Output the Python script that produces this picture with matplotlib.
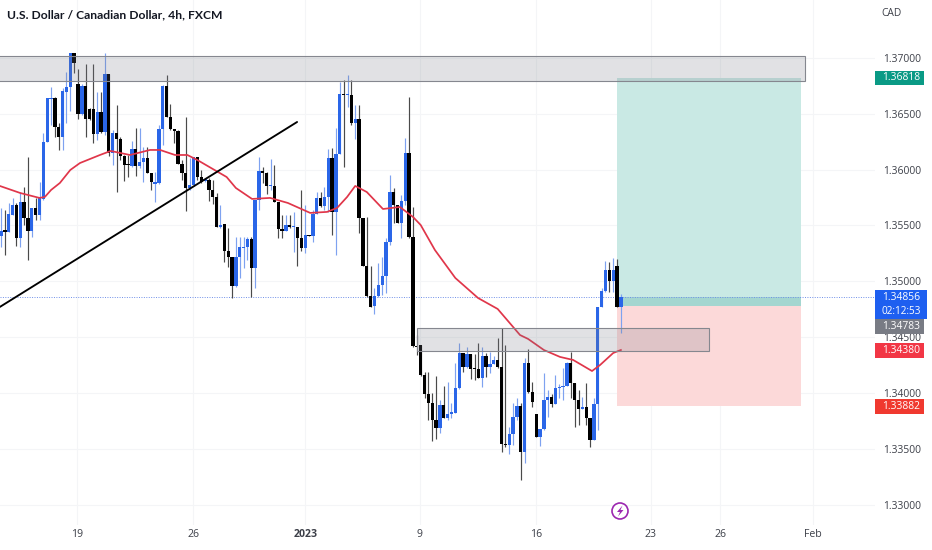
import matplotlib
matplotlib.use("Agg")
import matplotlib.pyplot as plt
from matplotlib.patches import Rectangle, Circle, Polygon

opens = [1.35406,1.35459,1.35441,1.35594,1.35683,1.35388,1.35710,1.35567,1.35450,1.35656,
1.35594,1.35737,1.36246,1.36631,1.36640,1.36380,1.36291,1.36693,1.36738,1.37042,
1.36765,1.36497,1.36747,1.36541,1.36541,1.36318,1.36514,1.36336,1.36854,1.36148,
1.36327,1.36273,1.36121,1.36050,1.36032,1.36184,1.36032,1.36068,1.36103,1.35969,
1.35871,1.35880,1.36363,1.36747,1.36470,1.36363,1.36345,1.36050,1.35969,1.35835,
1.35862,1.36112,1.35933,1.35898,1.35906,1.35817,1.35755,1.35486,1.35513,1.35272,
1.35218,1.34960,1.35218,1.35298,1.35307,1.35379,1.35120,1.35728,1.35987,1.35969,
1.35853,1.35853,1.35710,1.35468,1.35450,1.35504,1.35486,1.35486,1.35388,1.35298,
1.35415,1.35406,1.35602,1.35746,1.35674,1.35755,1.36103,1.35620,1.36139,1.36675,
1.36667,1.36667,1.36416,1.36452,1.35567,1.35138,1.34869,1.34780,1.34869,1.34967,
1.35048,1.35352,1.35799,1.35683,1.35522,1.35719,1.36148,1.35397,1.34422,1.34431,
1.34163,1.33993,1.33912,1.33760,1.33689,1.33894,1.33778,1.33814,1.33823,1.34046,
1.34359,1.34234,1.34350,1.34225,1.34216,1.34136,1.34332,1.34234,1.34261,1.34297,
1.34234,1.33546,1.33537,1.33635,1.33787,1.33885,1.33474,1.34270,1.34011,1.33814,
1.33608,1.33680,1.33939,1.33966,1.33903,1.34046,1.34055,1.34064,1.34270,1.34091,
1.33939,1.33859,1.33877,1.33778,1.33581,1.33903,1.34771,1.34914,1.35102,1.35003,
1.35138,1.34771]
highs = [1.35656,1.35638,1.35701,1.35746,1.35701,1.35799,1.35844,1.36112,1.35656,1.35746,
1.35889,1.36327,1.36640,1.36738,1.36649,1.36416,1.36729,1.36872,1.37042,1.37042,
1.36899,1.36765,1.36944,1.36550,1.36944,1.36693,1.36693,1.37042,1.36854,1.36354,
1.36577,1.36291,1.36130,1.36130,1.36255,1.36371,1.36371,1.36201,1.36201,1.35969,
1.35978,1.36398,1.36756,1.36845,1.36586,1.36363,1.36354,1.36085,1.36470,1.36103,
1.36112,1.36112,1.35996,1.35924,1.35924,1.35906,1.35790,1.35683,1.35513,1.35477,
1.35218,1.35397,1.35397,1.35397,1.35397,1.35397,1.35728,1.36112,1.36023,1.35978,
1.36094,1.36041,1.35710,1.35594,1.35594,1.35594,1.35620,1.35486,1.35817,1.35683,
1.35415,1.35638,1.35799,1.35799,1.35844,1.36184,1.36192,1.36371,1.36783,1.36801,
1.36845,1.36801,1.36577,1.36577,1.35567,1.35576,1.35138,1.34941,1.35164,1.35218,
1.35388,1.35951,1.35835,1.35683,1.35772,1.36282,1.36649,1.35665,1.34520,1.34431,
1.34190,1.34190,1.34002,1.34154,1.33939,1.34064,1.34100,1.33912,1.34270,1.34449,
1.34359,1.34413,1.34350,1.34350,1.34449,1.34413,1.34359,1.34368,1.34332,1.34494,
1.34583,1.34431,1.33698,1.33912,1.33957,1.33912,1.34315,1.34395,1.34100,1.33814,
1.33680,1.34181,1.34028,1.33993,1.34163,1.34082,1.34225,1.34279,1.34368,1.34091,
1.34028,1.33966,1.34091,1.33778,1.33957,1.34771,1.34941,1.35182,1.35173,1.35209,
1.35200,1.34887]
lows = [1.35307,1.35236,1.35441,1.35594,1.35316,1.35307,1.35504,1.35191,1.35397,1.35549,
1.35549,1.35728,1.36246,1.36398,1.36291,1.36175,1.36175,1.36416,1.36523,1.36863,
1.36452,1.36488,1.36291,1.36443,1.36237,1.36264,1.36327,1.36309,1.36121,1.36041,
1.35799,1.36085,1.35898,1.35933,1.36023,1.35942,1.36014,1.35889,1.35969,1.35817,
1.35710,1.35871,1.36219,1.36470,1.36354,1.36237,1.36050,1.35906,1.35629,1.35817,
1.35853,1.35906,1.35880,1.35889,1.35719,1.35692,1.35486,1.35477,1.35173,1.35129,
1.34851,1.34950,1.35030,1.35120,1.35191,1.34860,1.34941,1.35638,1.35880,1.35781,
1.35817,1.35710,1.35388,1.35388,1.35450,1.35477,1.35263,1.35138,1.35272,1.35254,
1.35406,1.35352,1.35602,1.35665,1.35638,1.35620,1.35415,1.35236,1.36139,1.36023,
1.36559,1.36398,1.36273,1.35432,1.35138,1.34860,1.34771,1.34708,1.34860,1.34878,
1.34896,1.35325,1.35522,1.35522,1.35388,1.35683,1.35388,1.34413,1.34342,1.34154,
1.33957,1.33760,1.33572,1.33590,1.33644,1.33778,1.33760,1.33778,1.33823,1.34037,
1.34190,1.34225,1.34127,1.34118,1.34136,1.34056,1.34145,1.34181,1.34261,1.34225,
1.33474,1.33519,1.33456,1.33537,1.33760,1.33224,1.33376,1.34002,1.33877,1.33608,
1.33528,1.33671,1.33787,1.33877,1.33903,1.33957,1.33939,1.34064,1.33957,1.33698,
1.33716,1.33859,1.33716,1.33519,1.33581,1.33671,1.34771,1.34905,1.34905,1.34905,
1.34771,1.34539]
closes = [1.35450,1.35441,1.35602,1.35683,1.35388,1.35710,1.35567,1.35450,1.35656,1.35594,
1.35746,1.36246,1.36640,1.36640,1.36380,1.36291,1.36702,1.36738,1.37042,1.36953,
1.36497,1.36747,1.36452,1.36452,1.36318,1.36514,1.36336,1.36854,1.36148,1.36327,
1.36273,1.36121,1.36041,1.36041,1.36184,1.36032,1.36068,1.36103,1.35969,1.35889,
1.35889,1.36363,1.36747,1.36470,1.36363,1.36345,1.36050,1.35969,1.35835,1.35862,
1.36112,1.35933,1.35889,1.35915,1.35817,1.35755,1.35486,1.35504,1.35272,1.35218,
1.34960,1.35218,1.35307,1.35307,1.35379,1.35120,1.35728,1.35987,1.35969,1.35853,
1.35862,1.35710,1.35468,1.35450,1.35504,1.35486,1.35495,1.35388,1.35298,1.35415,
1.35406,1.35602,1.35746,1.35674,1.35755,1.36103,1.35620,1.36139,1.36675,1.36667,
1.36675,1.36416,1.36452,1.35567,1.35138,1.34869,1.34771,1.34869,1.34967,1.35048,
1.35352,1.35799,1.35683,1.35522,1.35719,1.36148,1.35397,1.34422,1.34413,1.34163,
1.33993,1.33912,1.33760,1.33689,1.33894,1.33778,1.33814,1.33832,1.34046,1.34359,
1.34234,1.34350,1.34216,1.34216,1.34136,1.34332,1.34234,1.34261,1.34297,1.34234,
1.33546,1.33537,1.33635,1.33787,1.33885,1.33474,1.34270,1.34011,1.33921,1.33608,
1.33680,1.33939,1.33966,1.33903,1.34046,1.34055,1.34064,1.34270,1.34091,1.33939,
1.33859,1.33877,1.33778,1.33581,1.33903,1.34771,1.34914,1.35102,1.35003,1.35102,
1.34771,1.34856]

# moving average (bar index, price)
ema_idx = [-0.3,5,10,11.4,13,15.3,18,20.5,25.7,28.5,33.5,38.7,41.3,45.2,48.4,51,55,58.6,61,65.2,
           69.9,74.5,80.3,84.7,87.3,89.9,92,95,99.2,103.6,107,109,112.7,118,123.9,129,134.8,
           136.9,141,145.2,148.6,153.5,155.6,159,161]
ema_val = [1.35853,1.35790,1.35746,1.35755,1.35817,1.35880,1.35996,1.36058,1.36130,1.36166,
           1.36130,1.36175,1.36175,1.36130,1.36130,1.36085,1.36005,1.35933,1.35835,1.35737,
           1.35746,1.35701,1.35612,1.35621,1.35657,1.35755,1.35853,1.35799,1.35647,1.35665,
           1.35576,1.35504,1.35280,1.35030,1.34851,1.34753,1.34520,1.34485,1.34386,1.34324,
           1.34297,1.34198,1.34252,1.34359,1.34386]

x_tick_pos = [19.7,49.9,79,108.8,139,168.8,186.8,210.9]
x_tick_labels = ["19","26","2023","9","16","23","26","Feb"]
y_ticks = [1.33,1.335,1.34,1.345,1.35,1.355,1.36,1.365,1.37]

zone_top = (1.37016, 1.36792)
zone_mid = (1.34583, 1.34377)
target, entry, stop = 1.36818, 1.34783, 1.33882
last_price = 1.34856
ema_last = 1.34380
trend_i, trend_p = [-0.3, 76.9], [1.34771, 1.36425]

UP, DOWN = "#2a66e8", "#000000"

fig = plt.figure(figsize=(9.32, 5.5), dpi=100)
ax = fig.add_axes([0, 25/550, 875/932, 525/550])
ax.set_xlim(-0.26, 227.0)
ax.set_ylim(1.32821, 1.37516)
for s in ax.spines.values():
    s.set_visible(False)
ax.grid(True, color="#f4f5f7", lw=0.8)
ax.set_axisbelow(True)
ax.yaxis.tick_right()
ax.set_yticks(y_ticks)
ax.set_yticklabels([f"{v:.5f}" for v in y_ticks], fontfamily="Open Sans", fontsize=7.4, color="#3c3f48")
ax.set_xticks(x_tick_pos)
ax.set_xticklabels(x_tick_labels, fontfamily="Open Sans", fontsize=7.6, color="#3c3f48")
for lab in ax.get_xticklabels():
    if lab.get_text() == "2023":
        lab.set_fontweight("bold")
ax.tick_params(axis="both", length=0)
ax.tick_params(axis="y", pad=6)
ax.tick_params(axis="x", pad=3)

# position tool
ax.add_patch(Rectangle((160, entry), 47.8, target-entry, fc="#c9e9e4", ec="none", zorder=1))
ax.add_patch(Rectangle((160, stop), 47.8, entry-stop, fc="#fcd9d9", ec="none", zorder=1))
ax.add_patch(Rectangle((160, entry), 47.8, last_price-entry, fc="#a4d6d0", ec="none", zorder=1.1))

ax.axhline(last_price, color="#6f8fe8", lw=0.7, ls=(0, (1, 1.5)), zorder=1.5)

# candles
for i, (o, h, l, c) in enumerate(zip(opens, highs, lows, closes)):
    up = c >= o
    ax.vlines(i, l, h, color="#7ea2f0" if up else "#4a4a4a", lw=0.85, zorder=2)
    ax.bar(i, max(abs(c-o), 0.00011), bottom=min(o, c), width=0.86,
           color=UP if up else DOWN, zorder=3, linewidth=0)

ax.plot(ema_idx, ema_val, color="#e0364a", lw=1.25, zorder=4, solid_joinstyle="round")
ax.plot(trend_i, trend_p, color="#000000", lw=1.35, zorder=4, solid_capstyle="round")

box_fc = (0.47, 0.48, 0.53, 0.22)
ax.add_patch(Rectangle((-5, zone_top[1]), 213.85, zone_top[0]-zone_top[1], fc=box_fc, ec="#85878f", lw=0.8, zorder=5))
ax.add_patch(Rectangle((108.05, zone_mid[1]), 75.85, zone_mid[0]-zone_mid[1], fc=box_fc, ec="#85878f", lw=0.8, zorder=5))

# overlay in figure pixels for the price tags, title and icon
ov = fig.add_axes([0, 0, 1, 1])
ov.set_xlim(0, 932)
ov.set_ylim(550, 0)
ov.axis("off")
ov.patch.set_alpha(0)

F = "Open Sans"
tags = [("1.36818", "#0a9a85", 71, 85), ("1.34783", "#787b84", 319, 334),
        ("1.34380", "#f23645", 343, 358), ("1.33882", "#f0392f", 399, 414)]
for txt, col, y0, y1 in tags:
    ov.add_patch(Rectangle((875, y0), 49, y1-y0, fc=col, ec="none"))
    ov.text(901.5, (y0+y1)/2, txt, color="white", fontsize=7.4, ha="center", va="center", family=F)
ov.add_patch(Rectangle((875, 290), 52, 29, fc="#1e5ff0", ec="none"))
ov.text(901.5, 298, "1.34856", color="white", fontsize=7.4, ha="center", va="center", family=F)
ov.text(901.5, 311, "02:12:53", color="white", fontsize=7.2, ha="center", va="center", family=F)

ov.text(7, 15, "U.S. Dollar / Canadian Dollar, 4h, FXCM", fontsize=8.7, fontweight="bold",
        family="Lato", color="#131722", ha="left", va="center")
ov.text(892, 13, "CAD", fontsize=7.4, family=F, color="#3c3f48", ha="center", va="center")

ov.add_patch(Circle((620, 511), 8, fc="white", ec="#9c27b0", lw=1.2))
ov.add_patch(Polygon([(622.5, 505.5), (617, 512), (620, 512), (618, 516.5), (623.5, 510), (620.5, 510)],
                     closed=True, fc="#9c27b0", ec="none"))

fig.savefig("out.png", dpi=100)
